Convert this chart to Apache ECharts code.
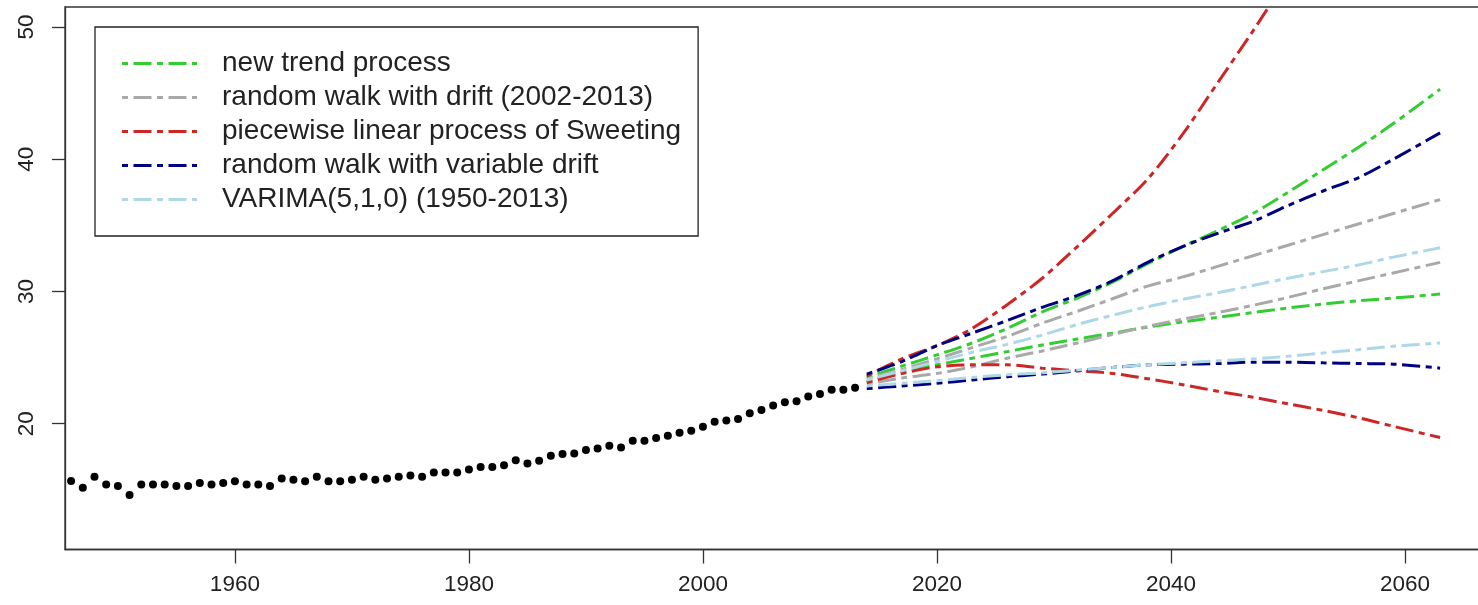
<!DOCTYPE html>
<html>
<head>
<meta charset="utf-8">
<script src="https://cdn.jsdelivr.net/npm/echarts@6/dist/echarts.min.js"></script>
<style>
html,body{margin:0;padding:0;background:#fff;overflow:hidden;}
#chart{width:1520px;height:605px;}
</style>
</head>
<body>
<div id="chart"></div>
<script>
// ---- data ----
const histYears = [1946,1947,1948,1949,1950,1951,1952,1953,1954,1955,1956,1957,1958,1959,
  1960,1961,1962,1963,1964,1965,1966,1967,1968,1969,1970,1971,1972,1973,1974,1975,1976,1977,1978,1979,
  1980,1981,1982,1983,1984,1985,1986,1987,1988,1989,1990,1991,1992,1993,1994,1995,1996,1997,1998,1999,
  2000,2001,2002,2003,2004,2005,2006,2007,2008,2009,2010,2011,2012,2013];
const histValues = [15.67,15.16,15.98,15.39,15.29,14.60,15.39,15.39,15.39,15.29,15.29,15.52,15.39,15.52,
  15.65,15.39,15.39,15.29,15.85,15.75,15.65,15.98,15.65,15.65,15.75,15.98,15.75,15.85,15.98,16.08,15.98,16.31,16.31,16.31,
  16.53,16.73,16.73,16.86,17.24,16.99,17.20,17.57,17.70,17.74,18.00,18.13,18.33,18.20,18.71,18.71,18.91,19.09,19.32,19.47,
  19.77,20.15,20.23,20.36,20.78,21.04,21.37,21.62,21.70,22.05,22.25,22.56,22.56,22.71];

const fcYears = [2014,2017,2020,2023,2026,2029,2032,2035,2038,2041,2044,2047,2050,2053,2056,2059,2063];

const newTrendUpper   = [23.50,24.35,25.20,26.10,27.20,28.45,29.50,30.70,32.10,33.40,34.60,35.90,37.50,39.20,40.90,42.70,45.30];
const newTrendLower   = [23.20,23.90,24.45,24.95,25.45,25.95,26.40,26.85,27.30,27.70,28.05,28.40,28.75,29.05,29.30,29.50,29.80];
const rwDriftUpper    = [23.40,24.10,24.90,25.75,26.60,27.60,28.50,29.45,30.40,31.10,31.90,32.70,33.50,34.30,35.10,35.90,36.95];
const rwDriftLower    = [23.00,23.45,23.80,24.30,24.95,25.50,26.10,26.75,27.35,27.90,28.40,28.95,29.55,30.20,30.80,31.40,32.20];
const sweetingUpper   = [23.60,24.90,25.90,27.20,29.00,31.00,33.40,35.90,38.50,41.90,45.80,49.70,53.80,58.20,63.00,68.00,75.50];
const sweetingLower   = [23.10,23.80,24.30,24.45,24.45,24.20,24.00,23.80,23.40,22.95,22.45,22.00,21.50,21.00,20.45,19.80,18.95];
const rwVarDriftUpper = [23.75,24.70,25.90,26.85,27.80,28.80,29.70,30.80,32.20,33.40,34.40,35.30,36.50,37.60,38.60,40.00,42.00];
const rwVarDriftLower = [22.65,22.85,23.05,23.30,23.55,23.75,24.00,24.25,24.45,24.50,24.55,24.65,24.65,24.60,24.55,24.50,24.20];
const varimaUpper     = [23.30,24.00,24.70,25.40,26.00,26.70,27.50,28.20,28.85,29.40,29.90,30.45,31.00,31.50,32.00,32.60,33.30];
const varimaLower     = [22.85,23.05,23.25,23.50,23.70,23.85,24.05,24.25,24.45,24.60,24.75,24.90,25.10,25.35,25.60,25.85,26.10];

const legendNames = [
  'new trend process',
  'random walk with drift (2002-2013)',
  'piecewise linear process of Sweeting',
  'random walk with variable drift',
  'VARIMA(5,1,0) (1950-2013)'
];
const xTicks = [1960,1980,2000,2020,2040,2060];
const yTicks = [20,30,40,50];

// ---- styling ----
const colors = ['#32CD32','#A9A9A9','#CD2626','#000080','#ADD8E6'];
const dashPattern = [6,5.5,18,5.5];
const font = "'Liberation Sans', Arial, sans-serif";
const iconPath = 'path://M0,0h6v3h-6z M11.5,0h18v3h-18z M35,0h6v3h-6z M46.5,0h18v3h-18z M70,0h5v3h-5z';

const pairs = [
  [newTrendUpper, newTrendLower],
  [rwDriftUpper, rwDriftLower],
  [sweetingUpper, sweetingLower],
  [rwVarDriftUpper, rwVarDriftLower],
  [varimaUpper, varimaLower]
];

const zip = (xs, ys) => xs.map((x, i) => [x, ys[i]]);

const series = [{
  type: 'scatter',
  name: 'observed',
  data: zip(histYears, histValues),
  symbol: 'circle',
  symbolSize: 8,
  itemStyle: { color: '#000', opacity: 1 },
  z: 5
}];
pairs.forEach((p, k) => {
  p.forEach(vals => {
    series.push({
      type: 'line',
      name: legendNames[k],
      data: zip(fcYears, vals),
      symbol: 'none',
      showSymbol: false,
      smooth: 0.3,
      color: colors[k],
      itemStyle: { color: colors[k] },
      lineStyle: { color: colors[k], width: 3, type: dashPattern },
      z: 3 + k * 0.1
    });
  });
});

const chart = echarts.init(document.getElementById('chart'), null, { renderer: 'canvas' });
chart.setOption({
  animation: false,
  backgroundColor: '#fff',
  textStyle: { fontFamily: font },
  grid: {
    left: 65, top: 7, right: 27, bottom: 55.5,
    show: true, borderColor: '#333', borderWidth: 1.3, backgroundColor: 'transparent'
  },
  xAxis: {
    type: 'value',
    min: 1945.48, max: 2067.52,
    splitLine: { show: false },
    axisLine: { show: true, onZero: false, lineStyle: { color: '#333', width: 1.3 } },
    axisTick: { show: true, customValues: xTicks, length: 14, lineStyle: { color: '#333', width: 1.3 } },
    axisLabel: { customValues: xTicks, formatter: v => String(v), fontSize: 22.5, color: '#222', margin: 24, fontFamily: font }
  },
  yAxis: {
    type: 'value',
    min: 10.48, max: 51.52,
    splitLine: { show: false },
    axisLine: { show: true, onZero: false, lineStyle: { color: '#333', width: 1.3 } },
    axisTick: { show: true, customValues: yTicks, length: 13, lineStyle: { color: '#333', width: 1.3 } },
    axisLabel: { customValues: yTicks, formatter: v => String(v), rotate: 90, fontSize: 22.5, color: '#222', margin: 27, fontFamily: font }
  },
  legend: {
    left: 95, top: 27,
    orient: 'vertical',
    padding: [22.5, 17, 22.5, 27],
    itemGap: 6,
    itemWidth: 75,
    itemHeight: 3,
    borderColor: '#222',
    borderWidth: 1.3,
    backgroundColor: '#fff',
    selectedMode: false,
    itemStyle: { borderWidth: 0 },
    textStyle: { fontSize: 28, color: '#222', fontFamily: font, padding: [0, 0, 0, 20] },
    data: legendNames.map((n) => ({ name: n, icon: iconPath }))
  },
  series: series
});
</script>
</body>
</html>
